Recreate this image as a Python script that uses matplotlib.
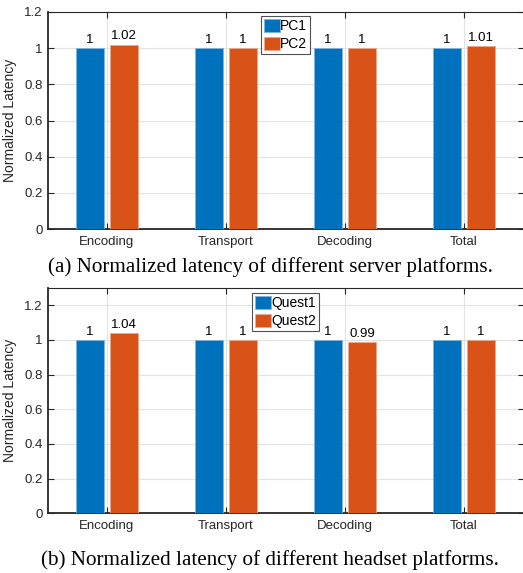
import matplotlib
matplotlib.use("Agg")
import matplotlib.pyplot as plt
import numpy as np

categories = ["Encoding", "Transport", "Decoding", "Total"]
pc1 = [1, 1, 1, 1]
pc2 = [1.02, 1, 1, 1.01]
quest1 = [1, 1, 1, 1]
quest2 = [1.04, 1, 0.99, 1]
pc1_labels = ["1", "1", "1", "1"]
pc2_labels = ["1.02", "1", "1", "1.01"]
q1_labels = ["1", "1", "1", "1"]
q2_labels = ["1.04", "1", "0.99", "1"]

BLUE = "#0072BD"
ORANGE = "#D95319"
AXC = "#262626"

W, H = 523, 573
fig = plt.figure(figsize=(W / 100, H / 100), dpi=100)
plt.rcParams['font.family'] = ['Liberation Sans', 'DejaVu Sans']


def px_axes(left, top, right, bottom):
    return fig.add_axes([left / W, 1 - bottom / H, (right - left) / W, (bottom - top) / H])


def draw(ax, s1, s2, l1, l2, names, ymax, yticks, legloc):
    x = np.arange(1, len(categories) + 1)
    off = 0.143
    bw = 0.23
    ax.bar(x - off, s1, bw, color=BLUE, edgecolor="#7fb4de", linewidth=0.6, label=names[0], zorder=3)
    ax.bar(x + off, s2, bw, color=ORANGE, edgecolor="#eca98c", linewidth=0.6, label=names[1], zorder=3)
    for xi, v, t in zip(x - off, s1, l1):
        ax.text(xi, v + 0.012, t, ha="center", va="bottom", fontsize=9.5, color="black", zorder=4)
    for xi, v, t in zip(x + off, s2, l2):
        ax.text(xi, v + 0.012, t, ha="center", va="bottom", fontsize=9.5, color="black", zorder=4)
    ax.set_xlim(0.5, len(categories) + 0.5)
    ax.set_ylim(0, ymax)
    ax.set_yticks(yticks)
    ax.set_yticklabels([("%g" % t) for t in yticks])
    ax.set_xticks(x)
    ax.set_xticklabels(categories)
    ax.grid(True, color="#e3e3e3", linewidth=0.8, zorder=0)
    ax.set_axisbelow(True)
    ax.tick_params(direction="in", length=4, width=0.8, colors=AXC, labelsize=9.5,
                   top=True, right=True, labelcolor=AXC)
    ax.tick_params(axis="x", pad=5)
    for s in ax.spines.values():
        s.set_color(AXC)
        s.set_linewidth(0.8)
    ax.spines["bottom"].set_linewidth(1.3)
    ax.spines["left"].set_linewidth(1.3)
    ax.set_ylabel("Normalized Latency", fontsize=10, color=AXC, labelpad=5)
    leg = ax.legend(loc="upper center", bbox_to_anchor=legloc, fontsize=10, frameon=True,
                    fancybox=False, edgecolor=AXC, handlelength=1.15, handleheight=1.1,
                    handletextpad=0.05, borderpad=0.2, labelspacing=0.25, borderaxespad=0)
    leg.get_frame().set_linewidth(0.8)
    leg.set_zorder(5)


ax1 = px_axes(47.5, 12, 523.5, 229)
draw(ax1, pc1, pc2, pc1_labels, pc2_labels, ["PC1", "PC2"], 1.2,
     [0, 0.2, 0.4, 0.6, 0.8, 1, 1.2], (0.5, 0.982))

ax2 = px_axes(47.5, 288, 523.5, 513.3)
draw(ax2, quest1, quest2, q1_labels, q2_labels, ["Quest1", "Quest2"], 1.3,
     [0, 0.2, 0.4, 0.6, 0.8, 1, 1.2], (0.5, 0.977))

fig.text(270 / W, 1 - 267 / H, "(a) Normalized latency of different server platforms.",
         ha="center", va="center", fontsize=15.2, family=["Liberation Serif", "DejaVu Serif"])
fig.text(270 / W, 1 - 560 / H, "(b) Normalized latency of different headset platforms.",
         ha="center", va="center", fontsize=15.2, family=["Liberation Serif", "DejaVu Serif"])

fig.savefig("out.png", dpi=100)
